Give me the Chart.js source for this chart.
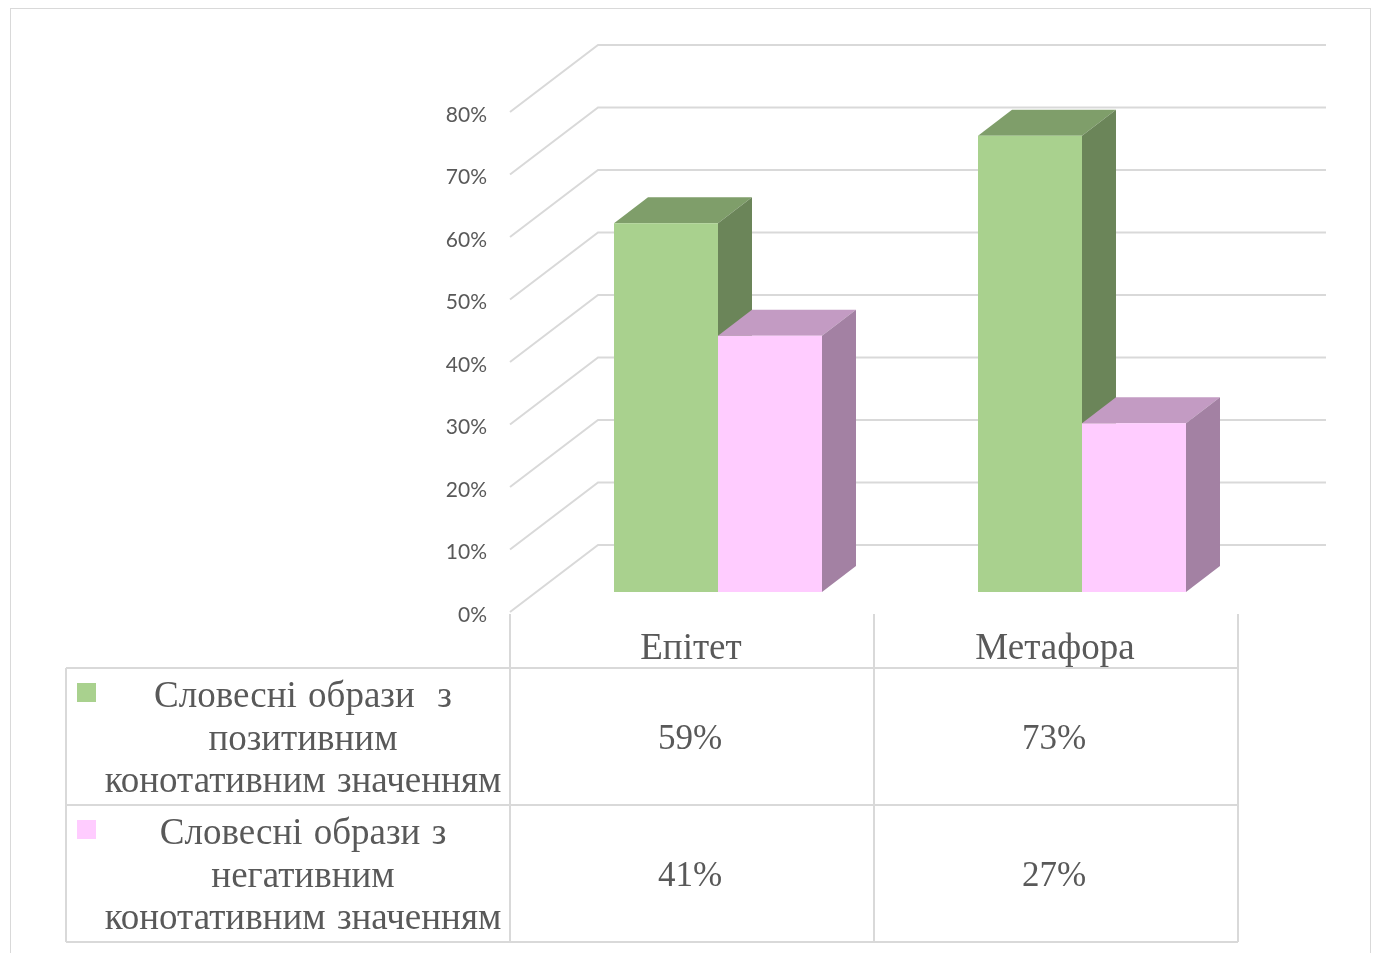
<!DOCTYPE html>
<html>
<head>
<meta charset="utf-8">
<script src="https://cdn.jsdelivr.net/npm/chart.js@4/dist/chart.umd.min.js"></script>
<style>
  html,body{margin:0;padding:0;background:#fff;}
  #frame{position:absolute;left:10px;top:8px;width:1361px;height:960px;border:1.5px solid #d9d9d9;box-sizing:border-box;}
  #wrap{position:absolute;left:0;top:0;width:1378px;height:953px;}
  .ln{position:absolute;background:#d9d9d9;}
  .tx{position:absolute;font-family:"Liberation Serif","Times New Roman",serif;color:#595959;text-align:center;white-space:pre;}
  .key{position:absolute;width:19px;height:19px;}
</style>
</head>
<body>
<div id="frame"></div>
<div id="wrap"><canvas id="c"></canvas></div>
<div id="table"></div>
<script>
// ---- data ----
const categories = ['Епітет', 'Метафора'];
const seriesNames = [
  ['Словесні образи  з', 'позитивним', 'конотативним значенням'],
  ['Словесні образи з', 'негативним', 'конотативним значенням']
];
const positiveValues = [59, 73];
const negativeValues = [41, 27];
const tickLabels = ['0%', '10%', '20%', '30%', '40%', '50%', '60%', '70%', '80%'];

// ---- styles ----
const frontColors = ['#A9D18E', '#FFCCFF'];
const topColors = ['#7F9E6A', '#C39BC3'];
const sideColors = ['#6B8559', '#A381A3'];
const DEPTH = { fx: -26, fy: 20, bx: 62, by: -47, dx: 34, dy: -26 };

const threeD = {
  id: 'threeD',
  beforeDatasetsDraw(chart) {
    const { ctx, chartArea: a, scales: { y } } = chart;
    ctx.save();
    ctx.strokeStyle = '#d9d9d9';
    ctx.lineWidth = 2;
    y.ticks.forEach(t => {
      const py = y.getPixelForValue(t.value);
      ctx.beginPath();
      ctx.moveTo(a.left + DEPTH.fx, py + DEPTH.fy);
      ctx.lineTo(a.left + DEPTH.bx, py + DEPTH.by);
      ctx.lineTo(a.right + DEPTH.bx, py + DEPTH.by);
      ctx.stroke();
    });
    const n = chart.data.labels.length;
    for (let j = 0; j < n; j++) {
      chart.data.datasets.forEach((ds, i) => {
        const el = chart.getDatasetMeta(i).data[j];
        const p = el.getProps(['x', 'y', 'base', 'width'], true);
        const L = p.x - p.width / 2, R = p.x + p.width / 2, T = p.y, B = p.base;
        ctx.fillStyle = topColors[i];
        ctx.beginPath();
        ctx.moveTo(L, T); ctx.lineTo(R, T); ctx.lineTo(R + DEPTH.dx, T + DEPTH.dy); ctx.lineTo(L + DEPTH.dx, T + DEPTH.dy);
        ctx.closePath(); ctx.fill();
        ctx.fillStyle = sideColors[i];
        ctx.beginPath();
        ctx.moveTo(R, T); ctx.lineTo(R + DEPTH.dx, T + DEPTH.dy); ctx.lineTo(R + DEPTH.dx, B + DEPTH.dy); ctx.lineTo(R, B);
        ctx.closePath(); ctx.fill();
      });
    }
    ctx.restore();
  }
};

const chart = new Chart(document.getElementById('c'), {
  type: 'bar',
  data: {
    labels: categories,
    datasets: [
      { label: seriesNames[0].join(' '), data: positiveValues, backgroundColor: frontColors[0], borderWidth: 0 },
      { label: seriesNames[1].join(' '), data: negativeValues, backgroundColor: frontColors[1], borderWidth: 0 }
    ]
  },
  options: {
    responsive: true,
    maintainAspectRatio: false,
    animation: false,
    layout: { padding: { left: 436, right: 114, top: 92, bottom: 361 } },
    plugins: { legend: { display: false }, tooltip: { enabled: false } },
    datasets: { bar: { categoryPercentage: 0.5714, barPercentage: 1 } },
    scales: {
      x: { display: false },
      y: {
        min: 0, max: 80,
        afterFit(scale) { scale.width = 100; },
        grid: { display: false, drawTicks: false },
        border: { display: false },
        ticks: {
          stepSize: 10,
          padding: 49,
          labelOffset: 23,
          color: '#595959',
          font: { family: 'Lato', size: 21 },
          callback: (v, i) => tickLabels[i]
        }
      }
    }
  },
  plugins: [threeD]
});

// ---- data table ----
(function buildTable() {
  const t = document.getElementById('table');
  const xs = chart.scales.x, ys = chart.scales.y;
  const colW = xs.width / categories.length;
  const x0 = xs.left + DEPTH.fx;
  const yTop = ys.getPixelForValue(0) + DEPTH.fy + 2;
  const headerH = 54, rowH = 137, legendLeft = 66;
  const xEnd = x0 + colW * categories.length;
  const yEnd = yTop + headerH + rowH * seriesNames.length;
  const add = (cls, css, html) => { const d = document.createElement('div'); d.className = cls; Object.assign(d.style, css); if (html != null) d.innerHTML = html; t.appendChild(d); return d; };
  for (let i = 0; i <= categories.length; i++) {
    add('ln', { left: (x0 + colW * i - 1) + 'px', top: yTop + 'px', width: '2px', height: (yEnd - yTop) + 'px' });
  }
  add('ln', { left: (legendLeft - 1) + 'px', top: (yTop + headerH) + 'px', width: '2px', height: (rowH * seriesNames.length) + 'px' });
  for (let r = 0; r <= seriesNames.length; r++) {
    add('ln', { left: legendLeft + 'px', top: (yTop + headerH + rowH * r - 1) + 'px', width: (xEnd - legendLeft) + 'px', height: '2px' });
  }
  categories.forEach((c, i) => {
    add('tx', { left: (x0 + colW * i - 1) + 'px', top: (yTop + 11) + 'px', width: colW + 'px', fontSize: '37px', lineHeight: '44px' }, c);
  });
  const allVals = [positiveValues, negativeValues];
  seriesNames.forEach((lines, r) => {
    const rt = yTop + headerH + rowH * r;
    add('key', { left: '77px', top: (rt + 15) + 'px', background: frontColors[r] });
    add('tx', { left: '96px', top: (rt + 6) + 'px', width: (x0 - 96) + 'px', fontSize: '37px', lineHeight: '42.5px', wordSpacing: '2px' }, lines.join('\n'));
    allVals[r].forEach((v, i) => {
      add('tx', { left: (x0 + colW * i - 2) + 'px', top: (rt + rowH / 2 - 21) + 'px', width: colW + 'px', fontSize: '35px', lineHeight: '44px' }, v + '%');
    });
  });
})();
</script>
</body>
</html>
